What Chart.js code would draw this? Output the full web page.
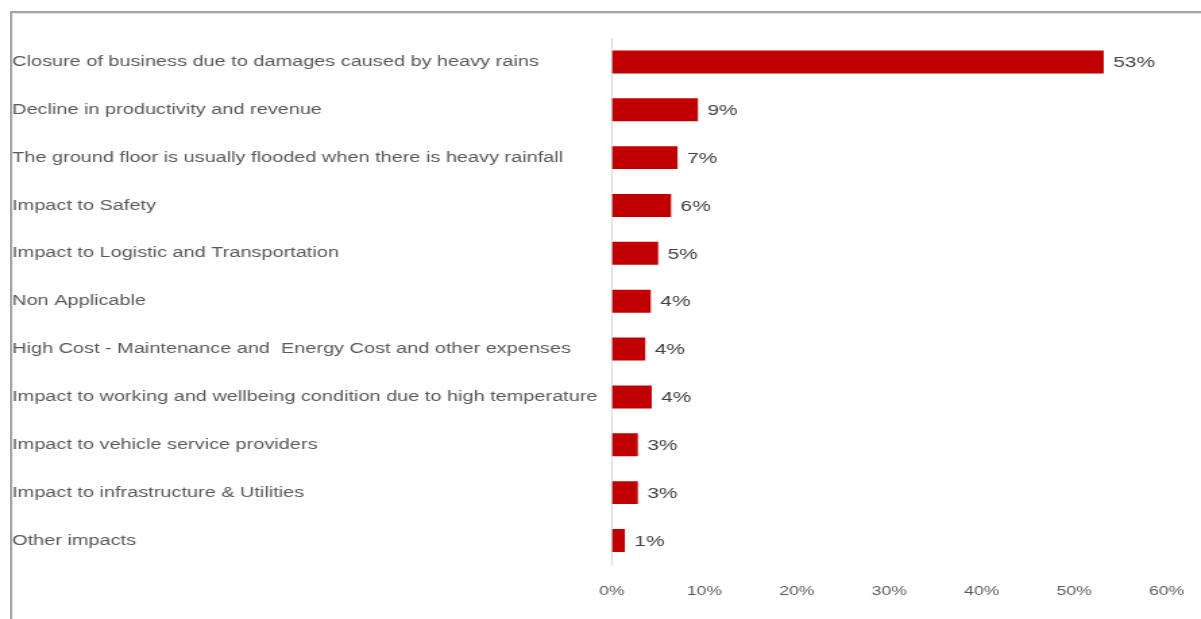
<!DOCTYPE html>
<html>
<head>
<meta charset="utf-8">
<script src="https://cdn.jsdelivr.net/npm/chart.js@4/dist/chart.umd.min.js"></script>
<style>
  html,body{margin:0;padding:0;background:#fff;overflow:hidden;}
  #frame{position:absolute;left:10px;top:11px;right:0;bottom:0;
    border-top:2px solid #a4a4a4;border-left:2px solid #a4a4a4;
    box-shadow:inset 1px 1px 0 #e2e2e2;}
  #wrap{position:absolute;left:0;top:0;width:890px;height:619px;
    transform:scaleX(1.3494);transform-origin:0 0;}
</style>
</head>
<body>
<div id="frame"></div>
<div id="wrap"><canvas id="chart" width="890" height="619"></canvas></div>
<script>
const categories=[
  "Closure of business due to damages caused by heavy rains",
  "Decline in productivity and revenue",
  "The ground floor is usually flooded when there is heavy rainfall",
  "Impact to Safety",
  "Impact to Logistic and Transportation",
  "Non Applicable",
  "High Cost - Maintenance and  Energy Cost and other expenses",
  "Impact to working and wellbeing condition due to high temperature",
  "Impact to vehicle service providers",
  "Impact to infrastructure & Utilities",
  "Other impacts"
];
const shares=[53.2,9.3,7.1,6.4,5.0,4.2,3.6,4.3,2.8,2.8,1.4];
const xTicks=[0,10,20,30,40,50,60];

// value text at the end of every bar
const barValues={
  id:"barValues",
  afterDatasetsDraw(chart){
    const ctx=chart.ctx;
    const meta=chart.getDatasetMeta(0);
    ctx.save();
    ctx.font="15.5px 'Liberation Sans', Arial, sans-serif";
    ctx.fillStyle="#404040";
    ctx.textAlign="left";
    ctx.textBaseline="middle";
    meta.data.forEach((bar,i)=>{
      ctx.fillText(Math.round(shares[i])+"%",bar.x+7,bar.y+1);
    });
    ctx.restore();
  }
};

new Chart("chart",{
  type:"bar",
  data:{
    labels:categories,
    datasets:[{
      data:shares,
      backgroundColor:"#c00000",
      barPercentage:0.48,
      categoryPercentage:1
    }]
  },
  options:{
    indexAxis:"y",
    responsive:false,
    animation:false,
    layout:{autoPadding:false,padding:{left:9,right:25.5,top:38,bottom:1}},
    plugins:{legend:{display:false},tooltip:{enabled:false}},
    scales:{
      x:{
        min:0,max:60,
        afterBuildTicks(scale){scale.ticks=xTicks.map(v=>({value:v}));},
        afterFit(scale){scale.paddingLeft=0;scale.paddingRight=0;},
        grid:{display:false,drawTicks:false},
        border:{display:false},
        ticks:{
          padding:19,
          color:"#595959",
          font:{family:"'Liberation Sans', Arial, sans-serif",size:13},
          callback:v=>v+"%"
        }
      },
      y:{
        afterFit(scale){scale.width=444.5;},
        grid:{display:false,drawTicks:false},
        border:{display:true,color:"#d9d9d9",width:1},
        ticks:{
          crossAlign:"far",
          padding:0,
          color:"#595959",
          font:{family:"'Liberation Sans', Arial, sans-serif",size:14.75}
        }
      }
    }
  },
  plugins:[barValues]
});
</script>
</body>
</html>
